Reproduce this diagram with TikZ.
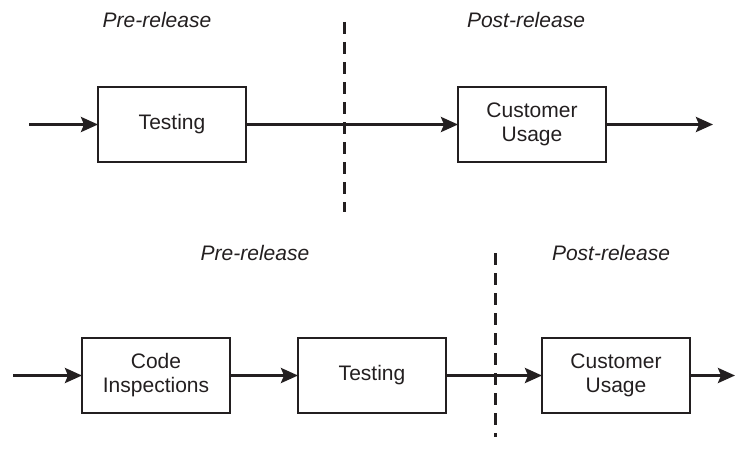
\documentclass[tikz,border=0pt]{standalone}
\usepackage{fontspec}
\setmainfont{Liberation Sans}
\usetikzlibrary{positioning,arrows.meta}
\definecolor{ink}{RGB}{35,31,32}

\begin{document}
\begin{tikzpicture}[x=1pt, y=-1pt, node distance=68pt, >={Stealth[length=17pt,width=15pt,inset=3pt]}]
	\tikzstyle{stage} = [rectangle, draw=ink, text=ink, line width=2.5pt, align=center, minimum height=75pt, minimum width=148pt, inner sep=0pt, outer sep=0pt, font=\fontsize{21pt}{24pt}\selectfont];
	\tikzstyle{phase} = [text=ink, font=\fontsize{21pt}{24pt}\selectfont\itshape];
	\tikzstyle{flow} = [draw=ink, line width=3pt, ->];
	\tikzstyle{cut} = [draw=ink, line width=3pt, dash pattern=on 12pt off 8pt];
	\useasboundingbox (0,0) rectangle (735,452);
	\node (preA) [phase] at (157,20) {Pre-release};
	\node (postA) [phase] at (526,20) {Post-release};
	\node (testA) [stage] at (172,124.5) {Testing};
	\node (useA) [stage, right=212pt of testA] {Customer\\Usage};
	\coordinate (inA) at (29,124.5);
	\coordinate (outA) at (713,124.5);
	\coordinate (cutAtop) at (344,22);
	\coordinate (cutAbot) at (344,212);
	\draw [cut] (cutAtop) -- (cutAbot);
	\draw [flow] (inA) -- (testA);
	\draw [flow] (testA) -- (useA);
	\draw [flow] (useA) -- (outA);
	\node (preB) [phase] at (255,253) {Pre-release};
	\node (postB) [phase] at (611,253) {Post-release};
	\node (codeB) [stage] at (156,375.5) {Code\\Inspections};
	\node (testB) [stage, right=of codeB] {Testing};
	\node (useB) [stage, right=96pt of testB] {Customer\\Usage};
	\coordinate (inB) at (13,375.5);
	\coordinate (outB) at (735,375.5);
	\coordinate (cutBtop) at (495,253);
	\coordinate (cutBbot) at (495,437);
	\draw [cut] (cutBtop) -- (cutBbot);
	\draw [flow] (inB) -- (codeB);
	\draw [flow] (codeB) -- (testB);
	\draw [flow] (testB) -- (useB);
	\draw [flow] (useB) -- (outB);
\end{tikzpicture}
\end{document}
